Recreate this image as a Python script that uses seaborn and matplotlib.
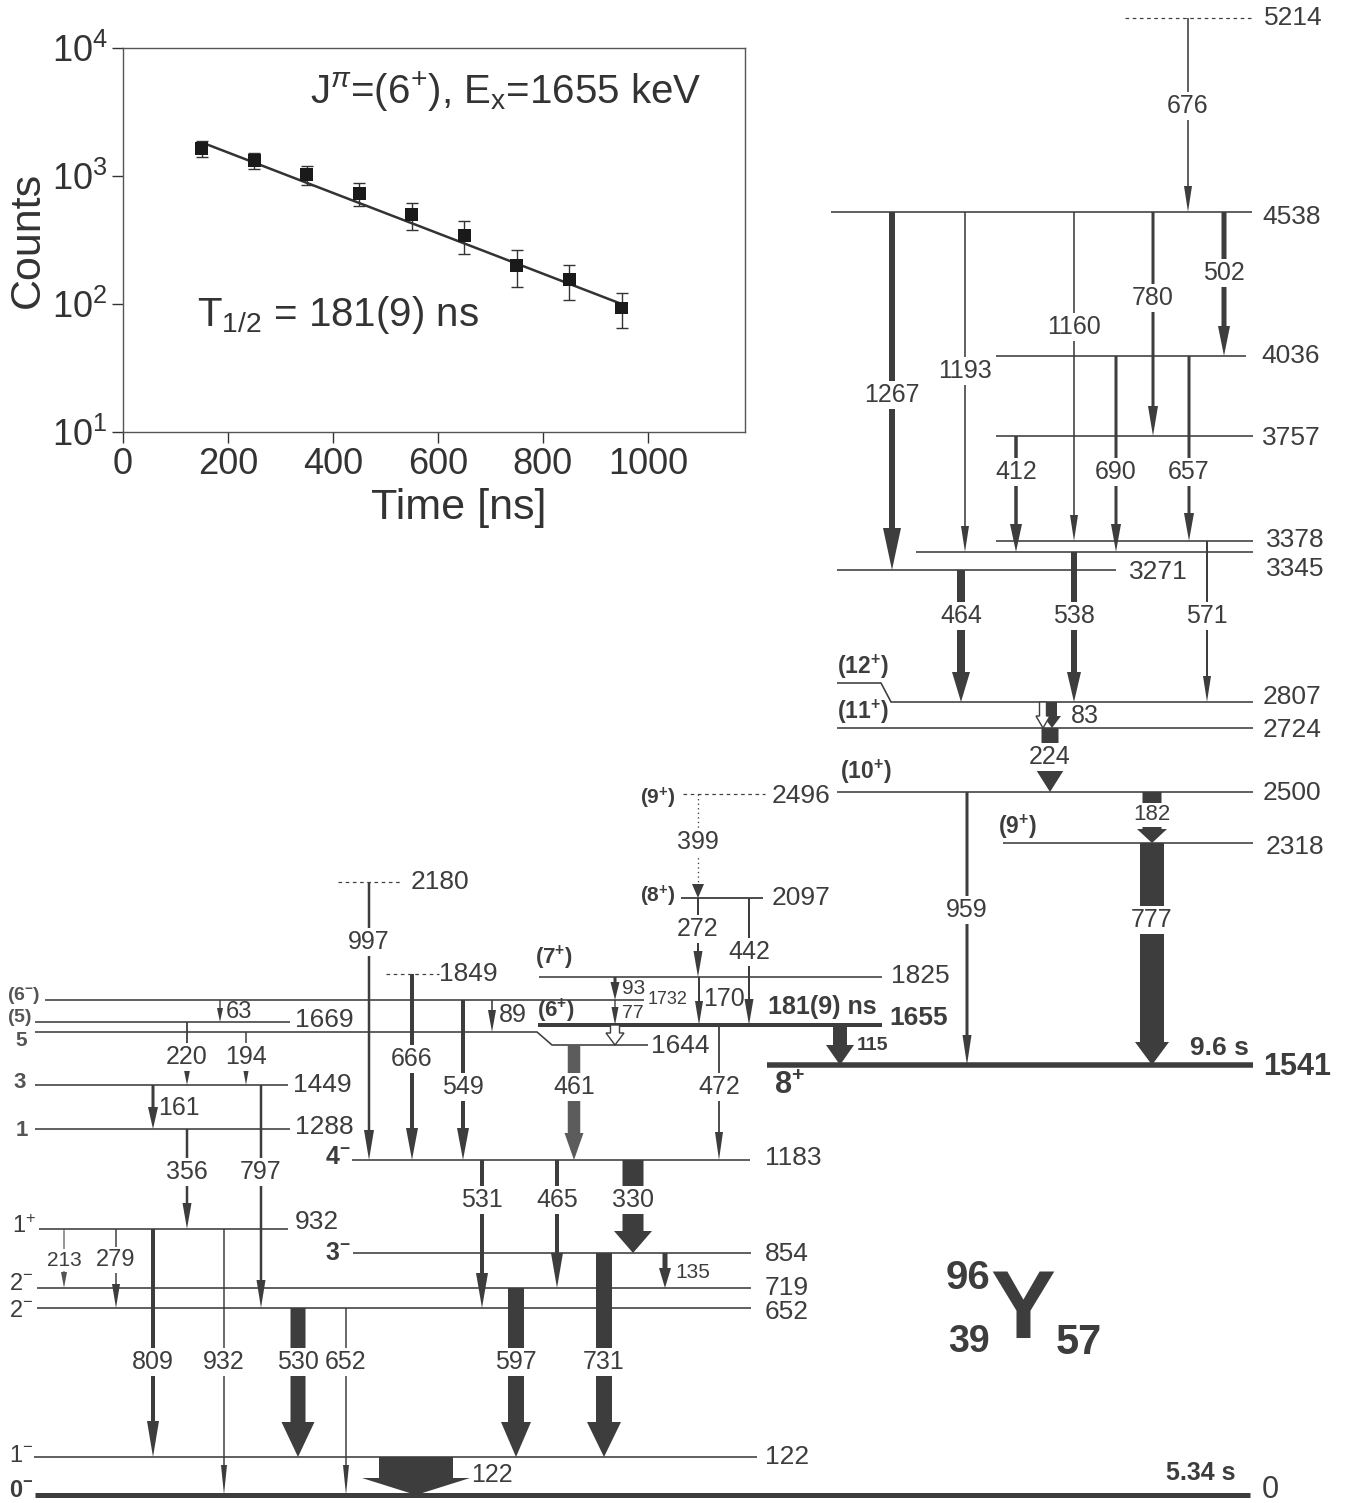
import numpy as np
import matplotlib
matplotlib.use("Agg")
import matplotlib.pyplot as plt
import seaborn as sns
from matplotlib.patches import FancyArrow, Polygon
from matplotlib.ticker import FixedLocator, NullLocator, FixedFormatter

# ---------------- data ----------------
decay_time = [150, 250, 350, 450, 550, 650, 750, 850, 950]
decay_counts = [1640, 1320, 1020, 730, 500, 345, 200, 155, 93]
decay_err = [240, 190, 170, 150, 120, 100, 65, 47, 28]
fit_time = [150, 950]
fit_counts = [1830, 100]
x_ticks = [0, 200, 400, 600, 800, 1000]
y_ticks = [10, 100, 1000, 10000]
y_tick_labels = [r"$\mathregular{10^{1}}$", r"$\mathregular{10^{2}}$",
                 r"$\mathregular{10^{3}}$", r"$\mathregular{10^{4}}$"]

level_energies = [0, 122, 652, 719, 854, 932, 1183, 1288, 1449, 1541, 1644, 1655,
                  1669, 1732, 1825, 1849, 2097, 2180, 2318, 2496, 2500, 2724, 2807,
                  3271, 3345, 3378, 3757, 4036, 4538, 5214]

gamma_energies = [676, 1267, 1193, 1160, 780, 502, 690, 657, 412, 464, 538, 571,
                  83, 224, 959, 182, 777, 115, 399, 272, 442, 170, 93, 77, 89,
                  997, 666, 549, 461, 472, 63, 220, 194, 161, 797, 356, 213, 279,
                  809, 932, 530, 652, 531, 465, 330, 135, 597, 731, 122]
gamma_from = [5214, 4538, 4538, 4538, 4538, 4538, 4036, 4036, 3757, 3271, 3345, 3378,
              2807, 2724, 2500, 2500, 2318, 1655, 2496, 2097, 2097, 1825, 1825, 1732, 1732,
              2180, 1849, 1732, 1644, 1655, 1732, 1669, 1644, 1449, 1449, 1288, 932, 932,
              932, 932, 652, 652, 1183, 1183, 1183, 854, 719, 854, 122]
gamma_to = [4538, 3271, 3345, 3378, 3757, 4036, 3345, 3378, 3345, 2807, 2807, 2807,
            2724, 2500, 1541, 2318, 1541, 1541, 2097, 1825, 1655, 1655, 1732, 1655, 1644,
            1183, 1183, 1183, 1183, 1183, 1669, 1449, 1449, 1288, 652, 932, 719, 652,
            122, 0, 122, 0, 652, 719, 854, 719, 122, 122, 0]

# ---------------- style ----------------
sns.set_theme(style="white")
plt.rcParams["font.family"] = ["Liberation Sans", "DejaVu Sans"]
plt.rcParams["mathtext.fontset"] = "custom"
plt.rcParams["mathtext.rm"] = "Liberation Sans"
plt.rcParams["mathtext.bf"] = "Liberation Sans:bold"
plt.rcParams["mathtext.it"] = "Liberation Sans:italic"
plt.rcParams["mathtext.sf"] = "Liberation Sans"

C = "#3d3d3d"
W, H = 1347, 1503
fig = plt.figure(figsize=(W / 100, H / 100), dpi=100)
ax = fig.add_axes([0, 0, 1, 1])
ax.set_xlim(0, W)
ax.set_ylim(H, 0)
ax.axis("off")

PX = 0.72  # points per pixel

# ---------------- level layout (pixel positions) ----------------
LEVEL_LAYOUT = {
    0:    ([(35, 1495), (1250, 1495)], 5, "-", 1262, 1490, 22, False),
    122:  ([(34, 1457), (757, 1457)], 1.6, "-", 765, 1457, 19, False),
    652:  ([(37, 1308), (751, 1308)], 1.6, "-", 765, 1312, 19, False),
    719:  ([(37, 1288), (751, 1288)], 1.6, "-", 765, 1288, 19, False),
    854:  ([(353, 1253), (751, 1253)], 1.6, "-", 765, 1254, 19, False),
    932:  ([(39, 1229), (288, 1229)], 1.6, "-", 295, 1222, 19, False),
    1183: ([(352, 1160), (750, 1160)], 1.6, "-", 765, 1158, 19, False),
    1288: ([(35, 1129), (290, 1129)], 1.6, "-", 295, 1127, 19, False),
    1449: ([(35, 1085), (288, 1085)], 1.6, "-", 293, 1085, 19, False),
    1541: ([(767, 1065), (1253, 1065)], 5.5, "-", 1263, 1067, 22, True),
    1644: ([(35, 1032), (537, 1032), (552, 1045), (648, 1045)], 1.6, "-", 651, 1046, 19, False),
    1655: ([(538, 1025), (882, 1025)], 4, "-", 889, 1018, 19, True),
    1669: ([(35, 1022), (290, 1022)], 1.6, "-", 295, 1020, 19, False),
    1732: ([(45, 1000), (644, 1000)], 1.6, "-", 648, 1000, 13, False),
    1825: ([(539, 977), (882, 977)], 1.6, "-", 891, 976, 19, False),
    1849: ([(386, 974), (439, 974)], 1.2, (0, (3, 3)), 439, 974, 19, False),
    2097: ([(681, 898), (763, 898)], 1.8, "-", 772, 898, 19, False),
    2180: ([(338, 882), (401, 882)], 1.2, (0, (3, 3)), 411, 882, 19, False),
    2318: ([(1003, 843), (1253, 843)], 1.6, "-", 1266, 847, 19, False),
    2496: ([(683, 794), (765, 794)], 1.2, (0, (3, 3)), 772, 796, 19, False),
    2500: ([(837, 792), (1253, 792)], 1.6, "-", 1263, 793, 19, False),
    2724: ([(837, 728), (1253, 728)], 1.6, "-", 1263, 730, 19, False),
    2807: ([(837, 683), (881, 683), (891, 702), (1253, 702)], 1.6, "-", 1263, 697, 19, False),
    3271: ([(837, 570), (1116, 570)], 1.6, "-", 1129, 572, 19, False),
    3345: ([(916, 552), (1253, 552)], 1.6, "-", 1266, 569, 19, False),
    3378: ([(996, 541), (1253, 541)], 1.6, "-", 1266, 540, 19, False),
    3757: ([(996, 436), (1253, 436)], 1.6, "-", 1262, 438, 19, False),
    4036: ([(996, 356), (1246, 356)], 1.6, "-", 1261, 356, 19, False),
    4538: ([(831, 212), (1252, 212)], 1.6, "-", 1262, 217, 19, False),
    5214: ([(1125, 18), (1253, 18)], 1.2, (0, (3, 3)), 1264, 18, 19, False),
}

def level_y(E, x):
    pts = LEVEL_LAYOUT[E][0]
    xs = [p[0] for p in pts]
    ys = [p[1] for p in pts]
    return float(np.interp(x, xs, ys))

for E in level_energies:
    pts, lw, ls, lx, lyy, ls_size, bold = LEVEL_LAYOUT[E]
    ax.plot([p[0] for p in pts], [p[1] for p in pts], color=C, lw=lw * PX,
            ls=ls, solid_capstyle="butt", zorder=2)
    ax.text(lx, lyy, str(E), color=C, fontsize=ls_size, ha="left", va="center",
            fontweight="bold" if bold else "normal", zorder=5)

# ---------------- gamma layout ----------------
GAMMA_LAYOUT = [
    (1188, 1.6, 8, 26, (None, 106, "center", 18, "normal"), C, "-"),       # 676
    (892, 6, 18, 42, (None, 395, "center", 18, "normal"), C, "-"),         # 1267
    (965, 1.6, 8, 26, (None, 371, "center", 18, "normal"), C, "-"),        # 1193
    (1074, 1.6, 8, 26, (None, 327, "center", 18, "normal"), C, "-"),       # 1160
    (1153, 3, 10, 30, (None, 298, "center", 18, "normal"), C, "-"),        # 780
    (1224, 5, 12, 30, (None, 273, "center", 18, "normal"), C, "-"),        # 502
    (1116, 3, 10, 28, (None, 472, "center", 18, "normal"), C, "-"),        # 690
    (1189, 3, 10, 28, (None, 472, "center", 18, "normal"), C, "-"),        # 657
    (1016, 3.5, 12, 28, (None, 472, "center", 18, "normal"), C, "-"),      # 412
    (961, 8, 18, 30, (None, 616, "center", 18, "normal"), C, "-"),         # 464
    (1074, 6, 14, 30, (None, 616, "center", 18, "normal"), C, "-"),        # 538
    (1207, 2, 8, 26, (None, 616, "center", 18, "normal"), C, "-"),         # 571
    (1052, 10, 18, 12, (1071, 716, "left", 18, "normal"), C, "-"),         # 83
    (1050, 17, 29, 23, (None, 757, "center", 18, "normal"), C, "-"),       # 224
    (967, 3, 9, 30, (None, 910, "center", 18, "normal"), C, "-"),          # 959
    (1152, 19, 30, 14, (None, 815, "center", 16, "normal"), C, "-"),       # 182
    (1152, 24, 34, 23, (None, 920, "center", 18, "normal"), C, "-"),       # 777
    (840, 14, 28, 20, (857, 1045, "left", 14, "bold"), C, "-"),            # 115
    (698, 1.3, 12, 14, (None, 842, "center", 18, "normal"), C, ":"),       # 399
    (698, 2, 9, 26, (None, 929, "center", 18, "normal"), C, "-"),          # 272
    (749, 2, 9, 26, (None, 952, "center", 18, "normal"), C, "-"),          # 442
    (699, 2, 8, 24, (703, 999, "left", 18, "normal"), C, "-"),             # 170
    (615, 3, 9, 18, (622, 988, "left", 15, "normal"), C, "-"),             # 93
    (615, 1.4, 7, 18, (622, 1013, "left", 14, "normal"), C, "-"),          # 77
    (492, 1.6, 8, 22, (499, 1015, "left", 18, "normal"), C, "-"),          # 89
    (369, 2.5, 10, 30, (None, 942, "center", 18, "normal"), C, "-"),       # 997
    (412, 4, 12, 32, (None, 1059, "center", 18, "normal"), C, "-"),        # 666
    (463, 4, 12, 32, (None, 1087, "center", 18, "normal"), C, "-"),        # 549
    (574, 12.5, 19, 27, (None, 1087, "center", 18, "normal"), "#5c5c5c", "-"),  # 461
    (719, 1.8, 8, 28, (None, 1087, "center", 18, "normal"), C, "-"),       # 472
    (220, 1.4, 6, 14, (226, 1012, "left", 17, "normal"), C, "-"),          # 63
    (187, 1.8, 9, 22, (None, 1057, "center", 18, "normal"), C, "-"),       # 220
    (246, 1.5, 8, 22, (None, 1057, "center", 18, "normal"), C, "-"),       # 194
    (153, 3, 10, 22, (158, 1108, "left", 18, "normal"), C, "-"),           # 161
    (261, 2.5, 9, 28, (None, 1172, "center", 18, "normal"), C, "-"),       # 797
    (187, 2.5, 9, 26, (None, 1172, "center", 18, "normal"), C, "-"),       # 356
    (64, 1.2, 6, 16, (None, 1260, "center", 15, "normal"), "#555555", "-"),  # 213
    (116, 1.5, 8, 24, (None, 1260, "center", 17, "normal"), C, "-"),       # 279
    (153, 4, 12, 36, (None, 1362, "center", 18, "normal"), C, "-"),        # 809
    (224, 1.5, 6, 30, (None, 1362, "center", 18, "normal"), C, "-"),       # 932
    (298, 15, 33, 35, (None, 1362, "center", 18, "normal"), C, "-"),       # 530
    (346, 1.5, 6, 30, (None, 1362, "center", 18, "normal"), C, "-"),       # 652
    (482, 4, 12, 35, (None, 1200, "center", 18, "normal"), C, "-"),        # 531
    (557, 4, 12, 35, (None, 1200, "center", 18, "normal"), C, "-"),        # 465
    (633, 21, 38, 22, (None, 1200, "center", 18, "normal"), C, "-"),       # 330
    (665, 5, 12, 20, (675, 1272, "left", 15, "normal"), C, "-"),           # 135
    (516, 16, 30, 35, (None, 1362, "center", 18, "normal"), C, "-"),       # 597
    (604, 16, 34, 35, (None, 1362, "center", 18, "normal"), C, "-"),       # 731
    (416, 74, 108, 17, (471, 1475, "left", 18, "normal"), C, "-"),         # 122
]

for Eg, Ei, Ef, lay in zip(gamma_energies, gamma_from, gamma_to, GAMMA_LAYOUT):
    x, w, hw, hl, lab, col, style = lay
    y0 = level_y(Ei, x)
    y1 = level_y(Ef, x)
    if style == ":":
        ax.plot([x, x], [y0, y1 - hl], color=col, lw=w * PX, ls=(0, (1, 2.5)), zorder=3)
        ax.add_patch(Polygon([(x - hw / 2, y1 - hl), (x + hw / 2, y1 - hl), (x, y1)],
                             closed=True, fc=col, ec="none", zorder=3))
    else:
        ax.add_patch(FancyArrow(x, y0, 0, y1 - y0, width=w, head_width=hw,
                                head_length=hl, length_includes_head=True,
                                fc=col, ec="none", lw=0, zorder=3))
    lx, ly, ha, size, weight = lab
    if lx is None:
        ax.text(x, ly, str(Eg), ha="center", va="center", fontsize=size, color=C,
                fontweight=weight, zorder=6,
                bbox=dict(boxstyle="square,pad=0.08", fc="white", ec="none"))
    else:
        ax.text(lx, ly, str(Eg), ha=ha, va="center", fontsize=size, color=C,
                fontweight=weight, zorder=6)

# hollow (converted) transitions
for x, Ei, Ef, w, hw, hl in [(1043, 2807, 2724, 7, 14, 12), (615, 1655, 1644, 9, 18, 12)]:
    y0 = level_y(Ei, x)
    y1 = level_y(Ef, x)
    ax.add_patch(FancyArrow(x, y0, 0, y1 - y0, width=w, head_width=hw, head_length=hl,
                            length_includes_head=True, fc="white", ec=C, lw=1.0, zorder=4))

# ---------------- spin / parity labels ----------------
SPINS = [
    (r"$\mathbf{(12^{+})}$", 837, 667, 16.5, C),
    (r"$\mathbf{(11^{+})}$", 837, 712, 16.5, C),
    (r"$\mathbf{(10^{+})}$", 840, 772, 16.5, C),
    (r"$\mathbf{(9^{+})}$", 998, 827, 16.5, C),
    (r"$\mathbf{(9^{+})}$", 640, 798, 15, C),
    (r"$\mathbf{(8^{+})}$", 640, 896, 15, C),
    (r"$\mathbf{(7^{+})}$", 535, 958, 16, C),
    (r"$\mathbf{(6^{+})}$", 537, 1011, 16, C),
    (r"$\mathbf{8^{+}}$", 774, 1086, 22, C),
    (r"$\mathbf{4^{-}}$", 325, 1157, 18, C),
    (r"$\mathbf{3^{-}}$", 325, 1253, 18, C),
    (r"$\mathbf{(6^{-})}$", 7, 995, 14, "#555555"),
    (r"$\mathbf{(5)}$", 7, 1018, 14, "#555555"),
    (r"$\mathbf{5}$", 15, 1041, 15, "#555555"),
    (r"$\mathbf{3}$", 13, 1083, 16, "#555555"),
    (r"$\mathbf{1}$", 15, 1130, 16, "#555555"),
    (r"$\mathregular{1^{+}}$", 12, 1227, 17, C),
    (r"$\mathregular{2^{-}}$", 9, 1284, 17, C),
    (r"$\mathregular{2^{-}}$", 9, 1311, 17, C),
    (r"$\mathregular{1^{-}}$", 9, 1456, 17, C),
    (r"$\mathbf{0^{-}}$", 9, 1491, 17, C),
]
for s, x, y, size, col in SPINS:
    ax.text(x, y, s, ha="left", va="center", fontsize=size, color=col, zorder=6)

ax.text(877, 1007, "181(9) ns", ha="right", va="center", fontsize=18, fontweight="bold", color=C)
ax.text(1249, 1048, "9.6 s", ha="right", va="center", fontsize=19, fontweight="bold", color=C)
ax.text(1235, 1473, "5.34 s", ha="right", va="center", fontsize=18, fontweight="bold", color=C)

# nucleus label
ax.text(990, 1278, "96", ha="right", va="center", fontsize=29, fontweight="bold", color=C)
ax.text(1023, 1313, "Y", ha="center", va="center", fontsize=70, fontweight="bold", color=C)
ax.text(990, 1342, "39", ha="right", va="center", fontsize=27, fontweight="bold", color=C)
ax.text(1056, 1343, "57", ha="left", va="center", fontsize=30, fontweight="bold", color=C)

# ---------------- inset decay curve ----------------
NARROW = ["Liberation Sans Narrow", "Liberation Sans", "DejaVu Sans"]
ax_in = fig.add_axes([123 / W, 1 - 432 / H, 622 / W, 384 / H])
ax_in.set_yscale("log")
ax_in.errorbar(decay_time, decay_counts, yerr=decay_err, fmt="none", ecolor="#333333",
               elinewidth=1.0, capsize=4, capthick=1.0, zorder=3)
sns.lineplot(x=fit_time, y=fit_counts, ax=ax_in, color="#333333", lw=1.8, zorder=4)
sns.scatterplot(x=decay_time, y=decay_counts, ax=ax_in, marker="s", s=85,
                color="#1a1a1a", edgecolor="none", zorder=5)
ax_in.set_xlim(0, 1185)
ax_in.set_ylim(10, 10000)
ax_in.xaxis.set_major_locator(FixedLocator(x_ticks))
ax_in.yaxis.set_major_locator(FixedLocator(y_ticks))
ax_in.yaxis.set_major_formatter(FixedFormatter(y_tick_labels))
ax_in.yaxis.set_minor_locator(NullLocator())
ax_in.xaxis.set_minor_locator(NullLocator())
ax_in.tick_params(axis="both", which="major", direction="out", length=8, width=1,
                  color="#333333", labelsize=26, labelcolor="#333333", pad=3,
                  bottom=True, left=True, top=False, right=False)
for lbl in ax_in.get_xticklabels():
    lbl.set_fontfamily(NARROW)
for sp in ax_in.spines.values():
    sp.set_color("#555555")
    sp.set_linewidth(1.0)
ax_in.set_xlabel("Time [ns]", fontsize=31, color="#333333", family=NARROW)
ax_in.set_ylabel("Counts", fontsize=31, color="#333333", family=NARROW)
ax_in.xaxis.set_label_coords(0.54, -0.145)
ax_in.yaxis.set_label_coords(-0.12, 0.5)
ax_in.text(0.30, 0.885, r"J$^{\pi}$=(6$^{+}$), E$_{\mathregular{x}}$=1655 keV",
           transform=ax_in.transAxes, ha="left", va="center", fontsize=29,
           color="#333333", family=NARROW)
ax_in.text(0.119, 0.305, r"T$_{\mathregular{1/2}}$ = 181(9) ns",
           transform=ax_in.transAxes, ha="left", va="center", fontsize=29,
           color="#333333", family=NARROW)
ax_in.set_facecolor("white")

fig.savefig("out.png", dpi=100)
